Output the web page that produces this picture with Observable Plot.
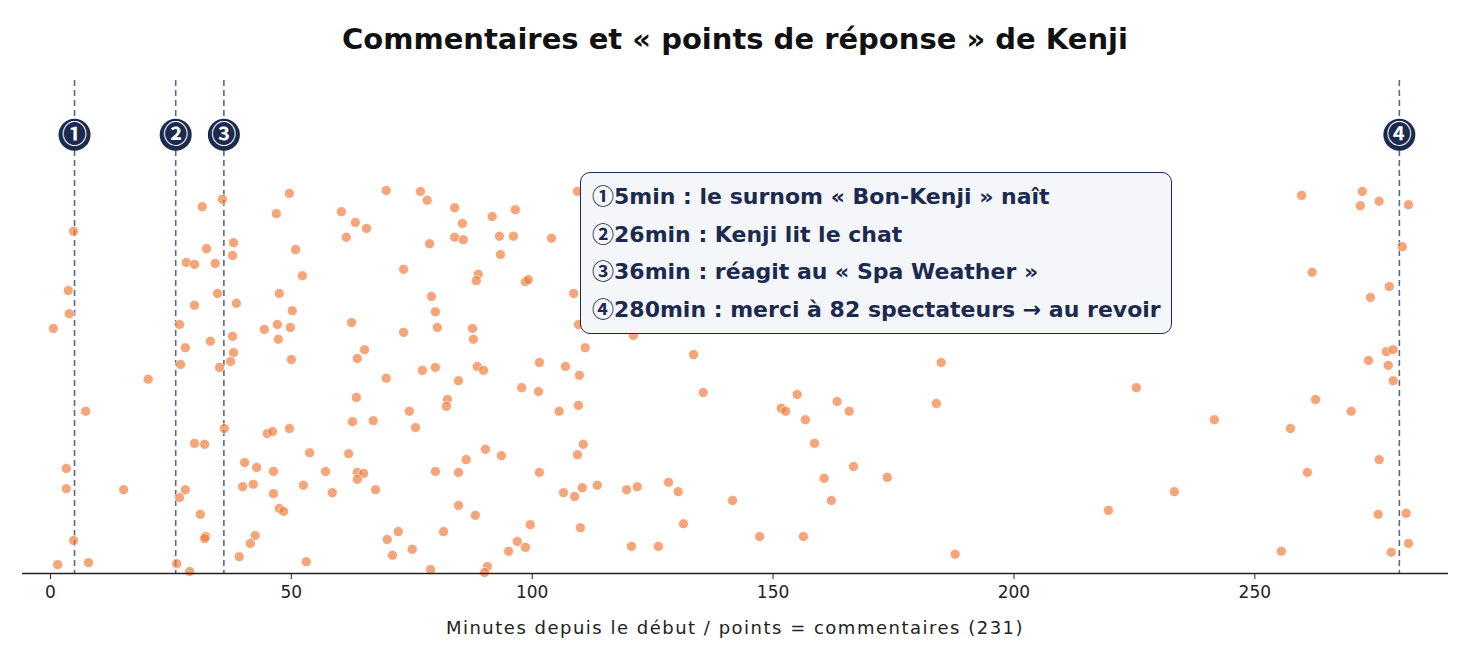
<!DOCTYPE html>
<html>
<head>
<meta charset="utf-8">
<script src="https://cdn.jsdelivr.net/npm/d3@7"></script>
<script src="https://cdn.jsdelivr.net/npm/@observablehq/plot@0.6"></script>
<style>
  body { margin: 0; background: #fff; font-family: "DejaVu Sans", "Noto Sans CJK JP", sans-serif; }
  #wrap { position: relative; width: 1470px; height: 660px; }
  #title { height: 70px; box-sizing: border-box; padding-top: 21px; line-height: 36px; text-align: center;
           font-size: 29px; font-weight: 700; color: #111; }
  #caption { height: 40px; line-height: 36px; text-align: center; font-size: 18px; letter-spacing: 1.5px; color: #222; }
  #box { position: absolute; left: 580px; top: 172px; width: 592px; height: 162px; box-sizing: border-box;
         border: 1.5px solid #1b2a4e; border-radius: 10px; background: #f4f6fa;
         padding: 5px 0 0 11px; color: #1b2a4e; font-size: 22px; font-weight: 700; white-space: nowrap; }
  #box div { height: 37.7px; line-height: 37.7px; }
  .cj { font-family: "Noto Sans CJK JP"; font-weight: 700; line-height: 1; }
</style>
</head>
<body>
<div id="wrap">
  <div id="title">Commentaires et « points de réponse » de Kenji</div>
  <div id="chart"></div>
  <div id="caption">Minutes depuis le début / points = commentaires (231)</div>
  <div id="box"></div>
</div>
<script>
// Comment times (minutes since start)
const minutes = [
  49.6,35.7,31.5,46.9,4.8,38.0,32.4,50.9,37.8,28.2,29.9,34.2,52.3,3.7,34.7,47.5,29.9,38.6,3.9,50.2,
  0.6,26.8,44.4,47.1,49.8,37.8,28.0,33.2,47.3,38.0,27.0,35.1,37.4,50.0,20.3,7.3,36.1,45.0,46.1,49.6,
  29.9,32.0,53.8,3.3,40.3,42.8,46.3,3.3,15.2,28.0,26.8,39.9,42.1,46.3,52.5,31.1,47.5,48.4,4.8,32.2,
  32.0,42.5,41.5,1.5,7.9,26.2,28.9,39.2,53.1,69.7,76.8,78.2,109.4,60.4,83.9,96.5,63.3,65.6,85.5,91.7,
  61.4,78.7,83.9,85.7,93.2,96.1,104.0,93.4,73.3,88.8,88.4,98.6,99.2,108.6,79.1,79.9,62.5,73.3,80.3,87.6,
  87.8,109.6,65.2,63.7,77.2,79.9,88.6,89.9,101.5,106.9,109.8,111.0,69.7,84.7,63.5,97.8,101.3,82.4,82.2,62.7,
  67.0,74.5,75.8,105.6,109.6,61.9,57.1,58.5,63.7,65.0,63.7,67.5,79.9,84.7,86.3,90.3,93.6,101.5,109.4,110.6,
  106.5,108.8,110.4,113.5,110.0,84.7,88.2,99.6,69.9,72.2,81.6,71.0,75.1,96.9,98.6,95.1,78.9,90.7,90.1,133.5,
  121.0,135.5,151.7,152.6,155.0,156.7,163.3,165.8,158.6,166.7,160.6,173.7,162.1,119.6,121.8,128.3,130.3,141.6,131.4,120.6,
  126.2,147.2,156.3,184.9,183.9,225.4,233.3,219.6,187.8,259.7,272.3,271.9,275.8,281.9,280.6,261.9,277.9,274.0,277.3,278.7,
  273.6,277.7,278.7,262.6,270.0,241.6,257.4,275.8,260.9,275.6,281.4,281.9,278.3,255.5
];
// Vertical jitter (0 = axis, 1 = top of plot)
const jitter = [
  0.771,0.759,0.744,0.730,0.694,0.671,0.659,0.657,0.645,0.631,0.627,0.629,0.604,0.574,0.568,0.568,0.544,0.548,0.527,0.533,
  0.497,0.505,0.495,0.505,0.499,0.481,0.458,0.471,0.475,0.448,0.424,0.418,0.430,0.434,0.394,0.329,0.294,0.284,0.288,0.294,
  0.264,0.262,0.245,0.213,0.225,0.215,0.207,0.172,0.170,0.170,0.154,0.176,0.181,0.162,0.179,0.120,0.132,0.126,0.067,0.075,
  0.071,0.077,0.061,0.018,0.022,0.020,0.004,0.034,0.024,0.777,0.775,0.757,0.775,0.734,0.742,0.738,0.712,0.700,0.710,0.724,
  0.682,0.669,0.682,0.677,0.684,0.684,0.680,0.647,0.617,0.607,0.594,0.592,0.596,0.568,0.562,0.531,0.509,0.489,0.499,0.497,
  0.475,0.505,0.454,0.436,0.412,0.418,0.420,0.412,0.428,0.420,0.402,0.458,0.396,0.391,0.357,0.377,0.369,0.353,0.339,0.308,
  0.310,0.329,0.296,0.329,0.341,0.243,0.207,0.164,0.205,0.203,0.191,0.170,0.207,0.205,0.231,0.252,0.239,0.205,0.241,0.262,
  0.164,0.156,0.174,0.179,0.093,0.138,0.118,0.099,0.069,0.085,0.085,0.037,0.049,0.065,0.053,0.045,0.008,0.014,0.002,0.444,
  0.483,0.367,0.335,0.329,0.363,0.312,0.349,0.329,0.264,0.217,0.193,0.195,0.148,0.170,0.176,0.185,0.166,0.148,0.101,0.055,
  0.055,0.075,0.075,0.428,0.345,0.377,0.166,0.128,0.039,0.767,0.775,0.746,0.755,0.748,0.663,0.611,0.582,0.560,0.450,0.454,
  0.432,0.422,0.391,0.353,0.329,0.312,0.294,0.231,0.205,0.120,0.122,0.061,0.043,0.045
];
// Response points
const eventMinutes = [5, 26, 36, 280];
const eventMarks = ["①", "②", "③", "④"];
const eventTexts = [
  "5min : le surnom « Bon-Kenji » naît",
  "26min : Kenji lit le chat",
  "36min : réagit au « Spa Weather »",
  "280min : merci à 82 spectateurs → au revoir"
];
const xTicks = [0, 50, 100, 150, 200, 250];
const markerLevel = 0.89;

const comments = minutes.map((m, i) => ({m, j: jitter[i]}));
const events = eventMinutes.map((m, i) => ({m, mark: eventMarks[i], y: markerLevel}));

const chart = Plot.plot({
  width: 1470,
  height: 540,
  marginTop: 10,
  marginBottom: 37,
  marginLeft: 22,
  marginRight: 22,
  style: {fontFamily: "'DejaVu Sans', 'Noto Sans CJK JP', sans-serif", fontSize: "17px", color: "#222", background: "#fff"},
  x: {domain: [-5.8, 290.2], ticks: xTicks, tickSize: 6, tickPadding: 6, label: null},
  y: {domain: [0, 1], axis: null},
  marks: [
    Plot.ruleX(events, {x: "m", stroke: "#5c6985", strokeWidth: 1.6, strokeDasharray: "6,4"}),
    Plot.dot(comments, {x: "m", y: "j", r: 5, fill: "#ee7733", fillOpacity: 0.65, stroke: "#fff", strokeWidth: 0.7}),
    Plot.ruleY([0], {stroke: "#222", strokeWidth: 1.5}),
    Plot.dot(events, {x: "m", y: "y", r: 16, fill: "#1b2a4e", stroke: "none"}),
    Plot.text(events, {x: "m", y: "y", text: "mark", fill: "#fff", fontSize: 25, fontWeight: 700, fontFamily: "'Noto Sans CJK JP'"})
  ]
});
document.getElementById("chart").appendChild(chart);
document.getElementById("box").innerHTML = eventTexts.map((t, i) => `<div><span class="cj">${eventMarks[i]}</span>${t}</div>`).join("");
</script>
</body>
</html>
